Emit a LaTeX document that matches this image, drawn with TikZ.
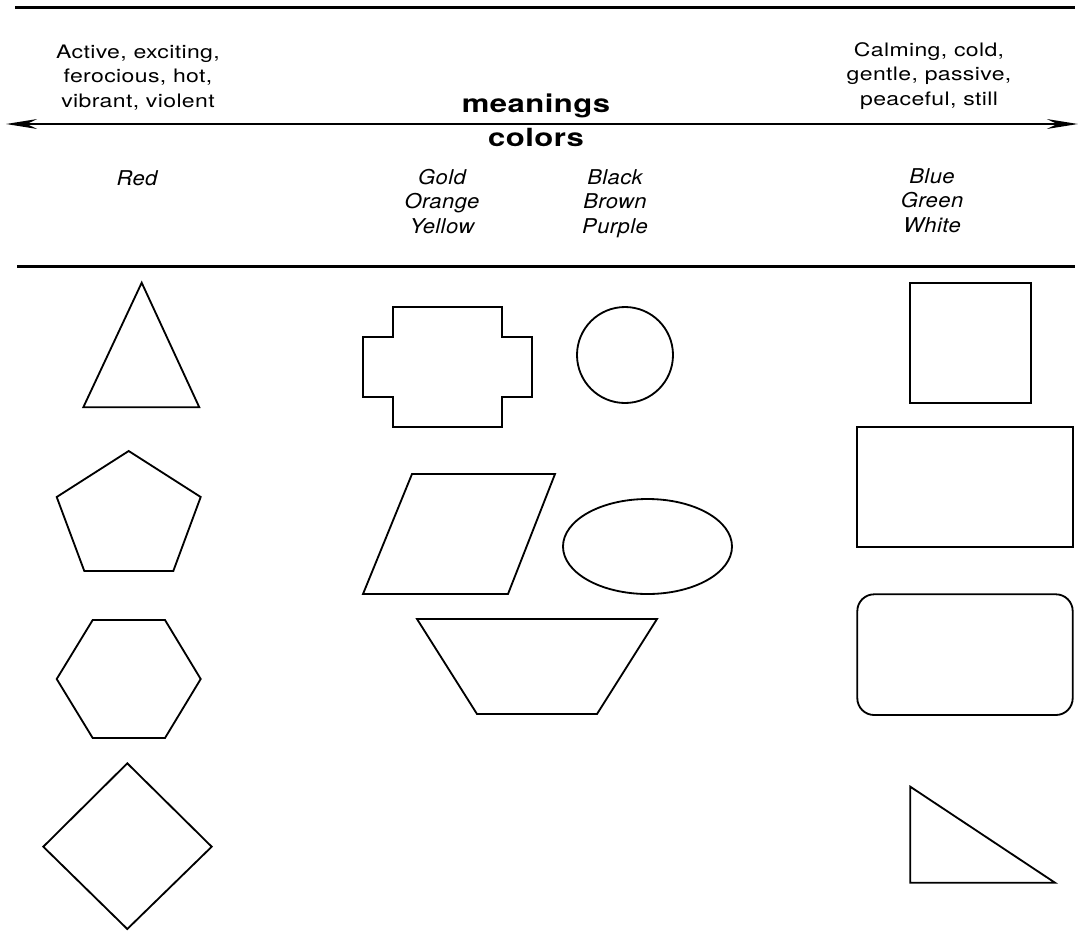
\documentclass[tikz,border=0pt]{standalone}
\usepackage{fontspec}
\setmainfont{TeX Gyre Heros}
\newfontfamily\meaningfont[FakeStretch=1.24,LetterSpace=2]{TeX Gyre Heros}
\newfontfamily\headfont[FakeStretch=1.24,LetterSpace=2]{TeX Gyre Heros}
\newfontfamily\colorfont[FakeStretch=1.08,LetterSpace=2]{TeX Gyre Heros}
\usetikzlibrary{arrows.meta, positioning}

\begin{document}
\begin{tikzpicture}[
		x=0.025cm, y=-0.025cm,
		% --- STYLES ---
		rule/.style={
			draw, line width=1.8pt
		},
		scaleline/.style={
			draw, line width=1.5pt,
			{Stealth[length=22pt, width=7pt]}-{Stealth[length=22pt, width=7pt]}
		},
		shapeline/.style={
			draw, line width=1.3pt, line join=miter
		},
		meaning/.style={
			align=center, inner sep=0pt, anchor=base,
			font=\meaningfont\fontsize{13.2}{17.4}\selectfont
		},
		heading/.style={
			inner sep=0pt, anchor=base,
			font=\headfont\bfseries\fontsize{17.8}{20}\selectfont
		},
		colorlist/.style={
			align=center, inner sep=0pt, anchor=base,
			font=\colorfont\itshape\fontsize{14.5}{17.4}\selectfont
		}
	]
	\useasboundingbox (0,0) rectangle (1079,930);
	
	% ==========================================
	% 1. Rules and meaning scale
	% ==========================================
	\coordinate (top_l) at (15,7.5);
	\coordinate (top_r) at (1075,7.5);
	\coordinate (mid_l) at (17,266.5);
	\coordinate (mid_r) at (1075,266.5);
	\coordinate (scale_l) at (6,124);
	\coordinate (scale_r) at (1078,124);
	
	\draw [rule] (top_l) -- (top_r);
	\draw [rule] (mid_l) -- (mid_r);
	\draw [scaleline] (scale_l) -- (scale_r);
	
	% base of a multi-line node = baseline of its last line
	\node [meaning] (active_txt) at (138,107) {Active, exciting,\\ferocious, hot,\\vibrant, violent};
	\node [meaning] (calm_txt) at (929,105) {Calming, cold,\\gentle, passive,\\peaceful, still};
	
	\node [heading] (meanings_lbl) at (536,112) {meanings};
	\node [heading] (colors_lbl) at (536,146.5) {colors};
	
	% ==========================================
	% 2. Colour names
	% ==========================================
	\node [colorlist] (red_lbl) at (137,185.7) {Red};
	\node [colorlist] (warm_lbl) at (442,233) {Gold\\Orange\\Yellow};
	\node [colorlist] (dark_lbl) at (615,233) {Black\\Brown\\Purple};
	\node [colorlist] (cool_lbl) at (932,232) {Blue\\Green\\White};
	
	% ==========================================
	% 3. Shapes - Red column
	% ==========================================
	\draw [shapeline] (141.7,282.7) -- (199.3,407.3) -- (83.3,407.3) -- cycle; % triangle
	\draw [shapeline] (128.7,451) -- (200.7,497) -- (173.3,571) -- (84.3,571) -- (56.7,497) -- cycle; % pentagon
	\draw [shapeline] (92.7,620) -- (165,620) -- (200.7,679) -- (165,738) -- (92.7,738) -- (56.7,679) -- cycle; % hexagon
	\draw [shapeline] (127.3,763.3) -- (211.7,846.7) -- (127.3,929) -- (43.3,846.7) -- cycle; % diamond
	
	% ==========================================
	% 4. Shapes - middle columns
	% ==========================================
	\draw [shapeline] (393,307) -- (502,307) -- (502,337) -- (532,337) -- (532,397) -- (502,397)
		-- (502,427) -- (393,427) -- (393,397) -- (363,397) -- (363,337) -- (393,337) -- cycle; % cross
	\draw [shapeline] (625,355) circle [radius=48];
	\draw [shapeline] (412,474) -- (555,474) -- (508,594) -- (363,594) -- cycle; % parallelogram
	\draw [shapeline] (647.5,546.5) ellipse [x radius=84.5, y radius=47.5];
	\draw [shapeline] (417,619) -- (657,619) -- (597,714) -- (477,714) -- cycle; % trapezoid
	
	% ==========================================
	% 5. Shapes - Blue column
	% ==========================================
	\draw [shapeline] (910.3,282.7) rectangle (1030.7,402.7);
	\draw [shapeline] (857.3,426.7) rectangle (1072.7,546.7);
	\draw [shapeline, rounded corners=0.42cm] (857.3,594.3) rectangle (1072.7,715);
	\draw [shapeline] (910.3,786.7) -- (910.3,882.7) -- (1055,882.7) -- cycle; % right triangle
\end{tikzpicture}
\end{document}
